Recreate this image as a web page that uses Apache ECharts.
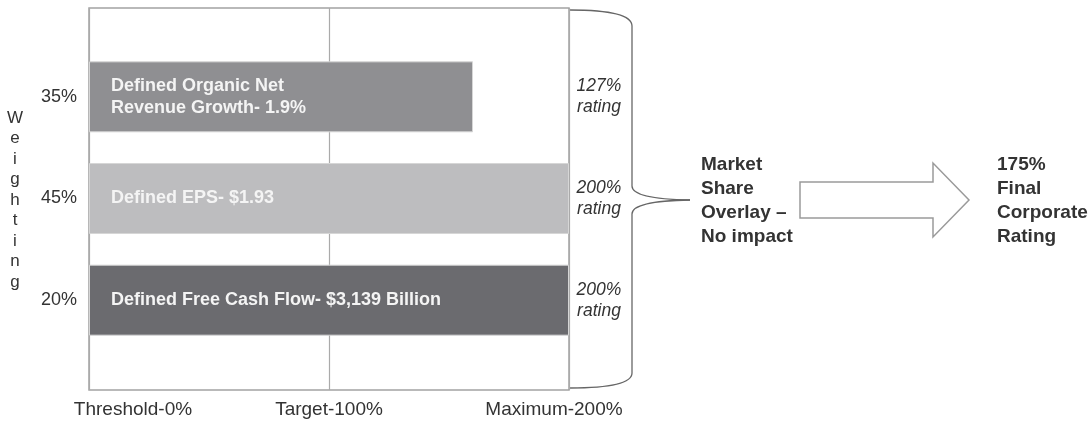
<!DOCTYPE html>
<html>
<head>
<meta charset="utf-8">
<script src="https://cdn.jsdelivr.net/npm/echarts@6/dist/echarts.min.js"></script>
<style>
  html, body { margin: 0; padding: 0; background: #fff; }
  #chart { width: 1091px; height: 421px; }
</style>
</head>
<body>
<div id="chart"></div>
<script>
// data
var weights = ['35%', '45%', '20%'];
var measures = ['Defined Organic Net\nRevenue Growth- 1.9%', 'Defined EPS- $1.93', 'Defined Free Cash Flow- $3,139 Billion'];
var performance = [160, 200, 200];
var ratings = ['127%\nrating', '200%\nrating', '200%\nrating'];
var barColors = ['#8f8f92', '#bdbdbf', '#6b6b6f'];
var tickValues = [0, 100, 200];
var tickLabels = ['Threshold-0%', 'Target-100%', 'Maximum-200%'];
var axisTitle = 'Weighting';
var overlayText = ['Market', 'Share', 'Overlay –', 'No impact'];
var resultText = ['175%', 'Final', 'Corporate', 'Rating'];

var FONT = '"Liberation Sans", Arial, sans-serif';
var TEXT = '#333333';
var BRACE = {fill: 'none', stroke: '#666666', lineWidth: 1.3};

var myChart = echarts.init(document.getElementById('chart'));

var option = {
    animation: false,
    backgroundColor: '#ffffff',
    grid: [
        // frame
        {left: 89, top: 8, width: 480, height: 382, show: true, borderColor: '#a3a3a3', borderWidth: 1.5, backgroundColor: 'transparent'},
        // bars
        {left: 89, top: 46, width: 480, height: 305}
    ],
    xAxis: [
        {
            gridIndex: 0, type: 'value', min: 0, max: 200, interval: 100,
            axisLine: {show: false}, axisTick: {show: false},
            splitLine: {show: true, lineStyle: {color: '#aaaaaa', width: 1.2}},
            axisLabel: {
                margin: 10,
                fontFamily: FONT, fontSize: 19, color: TEXT,
                formatter: function (v) {
                    var i = tickValues.indexOf(v);
                    return '{t' + i + '|' + tickLabels[i] + '}';
                },
                rich: {
                    t0: {padding: [0, 0, 0, 88], fontFamily: FONT, fontSize: 19, color: TEXT},
                    t1: {fontFamily: FONT, fontSize: 19, color: TEXT},
                    t2: {padding: [0, 30, 0, 0], fontFamily: FONT, fontSize: 19, color: TEXT}
                }
            }
        },
        {gridIndex: 1, type: 'value', min: 0, max: 200, show: false}
    ],
    yAxis: [
        {gridIndex: 0, type: 'value', min: 0, max: 1, show: false},
        {
            gridIndex: 1, type: 'category', inverse: true, data: weights,
            axisLine: {show: false}, axisTick: {show: false},
            axisLabel: {margin: 12, fontFamily: FONT, fontSize: 18, color: TEXT}
        },
        {
            gridIndex: 1, type: 'category', inverse: true, position: 'right', data: ratings,
            axisLine: {show: false}, axisTick: {show: false},
            axisLabel: {margin: 30, align: 'center', fontFamily: FONT, fontSize: 17.5, fontStyle: 'italic', lineHeight: 21, color: TEXT}
        }
    ],
    series: [
        {
            type: 'bar',
            xAxisIndex: 1,
            yAxisIndex: 1,
            barWidth: 71,
            data: performance.map(function (v, i) {
                return {value: v, itemStyle: {color: barColors[i]}};
            }),
            itemStyle: {borderColor: '#d6d6d6', borderWidth: 1},
            label: {
                show: true,
                position: 'insideLeft',
                distance: 22,
                fontFamily: FONT, fontSize: 18, fontWeight: 'bold', lineHeight: 22,
                color: '#f4f4f4',
                formatter: function (p) { return measures[p.dataIndex]; }
            }
        }
    ],
    graphic: [
        {
            type: 'text', x: 15, y: 200,
            style: {text: axisTitle.split('').join('\n'), fontFamily: FONT, fontSize: 17, lineHeight: 20.5, fill: TEXT, align: 'center', verticalAlign: 'middle'}
        },
        // curly brace
        {type: 'bezierCurve', shape: {x1: 570, y1: 10, cpx1: 632, cpy1: 10, x2: 632, y2: 26}, style: BRACE},
        {type: 'line', shape: {x1: 632, y1: 26, x2: 632, y2: 186}, style: BRACE},
        {type: 'bezierCurve', shape: {x1: 632, y1: 186, cpx1: 632, cpy1: 199, x2: 690, y2: 200}, style: BRACE},
        {type: 'bezierCurve', shape: {x1: 690, y1: 200, cpx1: 632, cpy1: 201, x2: 632, y2: 214}, style: BRACE},
        {type: 'line', shape: {x1: 632, y1: 214, x2: 632, y2: 373}, style: BRACE},
        {type: 'bezierCurve', shape: {x1: 632, y1: 373, cpx1: 632, cpy1: 388, x2: 570, y2: 388}, style: BRACE},
        // block arrow
        {
            type: 'polygon',
            shape: {points: [[800, 182], [933, 182], [933, 163], [969, 200], [933, 237], [933, 218], [800, 218]]},
            style: {fill: '#ffffff', stroke: '#9a9a9a', lineWidth: 1.5}
        },
        {
            type: 'text', x: 701, y: 201,
            style: {text: overlayText.join('\n'), fontFamily: FONT, fontSize: 19, fontWeight: 'bold', lineHeight: 24, fill: TEXT, verticalAlign: 'middle'}
        },
        {
            type: 'text', x: 997, y: 201,
            style: {text: resultText.join('\n'), fontFamily: FONT, fontSize: 19, fontWeight: 'bold', lineHeight: 24, fill: TEXT, verticalAlign: 'middle'}
        }
    ]
};

myChart.setOption(option);
</script>
</body>
</html>
